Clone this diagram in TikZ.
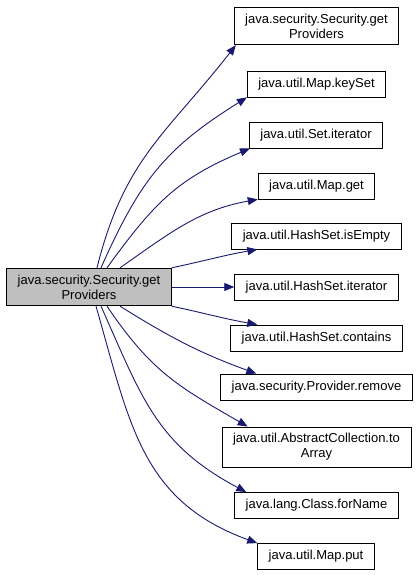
\documentclass[tikz,border=0pt]{standalone}
\usepackage{fontspec}
\setmainfont{Liberation Sans}
\usetikzlibrary{arrows.meta}
\definecolor{callblue}{HTML}{191970}
\definecolor{focusgray}{HTML}{BFBFBF}

\begin{document}
\begin{tikzpicture}[x=1bp,y=1bp,
  box/.style={draw=black,line width=0.8bp,fill=white,inner xsep=11bp,inner ysep=6.5bp,
    align=center,font=\fontsize{13bp}{15bp}\selectfont,minimum height=26bp},
  call/.style={callblue,line width=0.9bp,-{Triangle[length=10bp,width=8bp]}}]
  \useasboundingbox (0,0) rectangle (417,-575);
  % caller
  \node[box,fill=focusgray] (main) at (89,-287) {java.security.Security.get\\Providers};
  % callees
  \node[box] (sgp) at (316.5,-26) {java.security.Security.get\\Providers};
  \node[box] (keyset) at (316.5,-84) {java.util.Map.keySet};
  \node[box] (setit) at (316,-135) {java.util.Set.iterator};
  \node[box] (mapget) at (316.5,-186) {java.util.Map.get};
  \node[box] (hsempty) at (316.5,-236) {java.util.HashSet.isEmpty};
  \node[box] (hsit) at (316.5,-287) {java.util.HashSet.iterator};
  \node[box] (hscont) at (316.5,-338) {java.util.HashSet.contains};
  \node[box] (provrm) at (316.5,-387) {java.security.Provider.remove};
  \node[box] (toarray) at (316.5,-447) {java.util.AbstractCollection.to\\Array};
  \node[box] (forname) at (316.5,-505.5) {java.lang.Class.forName};
  \node[box] (mapput) at (316,-556.5) {java.util.Map.put};
  % calls
  \draw[call] ([xshift=8bp]main.north) to[out=76,in=232,looseness=1.1] ([xshift=2bp]sgp.south west);
  \draw[call] ([xshift=12bp]main.north) to[out=66,in=212,looseness=1.1] (keyset.south west);
  \draw[call] ([xshift=18bp]main.north) to[out=54,in=203,looseness=1.1] ([xshift=1bp]setit.south west);
  \draw[call] ([xshift=31bp]main.north) to[out=35,in=190] (mapget.south west);
  \draw[call] (main.north east) to[out=12,in=190] ([xshift=26bp]hsempty.south west);
  \draw[call] (main.east) -- (hsit.west);
  \draw[call] (main.south east) to[out=-12,in=170] ([xshift=27bp]hscont.north west);
  \draw[call] ([xshift=31bp]main.south) to[out=-32,in=160] ([xshift=36bp]provrm.north west);
  \draw[call] ([xshift=18bp]main.south) to[out=-56,in=150,looseness=1.1] ([xshift=26bp]toarray.north west);
  \draw[call] ([xshift=12bp]main.south) to[out=-66,in=152,looseness=1.1] ([xshift=12bp]forname.north west);
  \draw[call] ([xshift=7bp]main.south) to[out=-74,in=160,looseness=1.1] (mapput.north west);
\end{tikzpicture}
\end{document}
